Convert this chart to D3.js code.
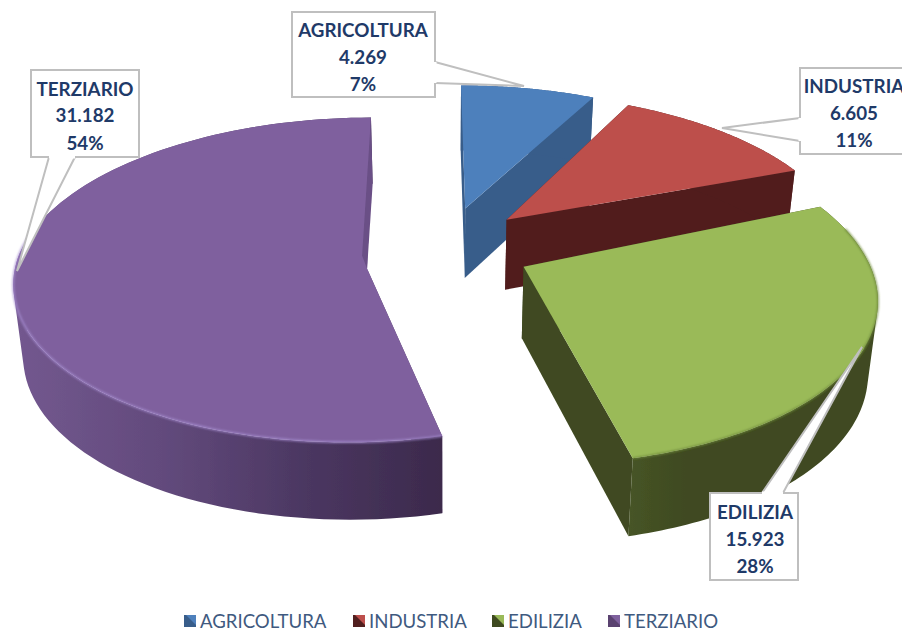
<!DOCTYPE html>
<html><head><meta charset="utf-8">
<style>html,body{margin:0;padding:0;background:#fff;overflow:hidden}svg{display:block}</style>
<script src="https://cdn.jsdelivr.net/npm/d3@7"></script></head>
<body><svg id="c" width="902" height="628"></svg>
<script>
// data
const categories = ["AGRICOLTURA","INDUSTRIA","EDILIZIA","TERZIARIO"];
const values = [4269,6605,15923,31182];
const percents = ["7%","11%","28%","54%"];
// styles
const topColors  = ["#4e80bc","#bd4f4c","#9aba59","#7f619e"];
const sideColors = ["#385d8a","#511f1f","#3f4a20","#5a4270"];
const edgeColors = ["#4a78b0","#b54a47","#6f8a3a","#a58bd0"];
// callouts: box, pointer base, pointer tip, text centre and line positions
const callouts = [
 {box:[292,12,143,85], base:[[435,62],[435,83]], tip:[524,86], cx:363, ys:[29,56,83]},
 {box:[800,68,110,86], base:[[800,118],[800,141]], tip:[722,128], cx:854, ys:[85,112,139]},
 {box:[710,493,88,87], base:[[762,493],[783,493]], tip:[862,347], cx:755, ys:[511,538,565]},
 {box:[31,70,108,87], base:[[49,157],[75,157]], tip:[17,271], cx:85, ys:[88,114,142]}
];
const legendX = [184,353,492,608];

// projection of the pie plane
const P = {cx:446, cy:250, A:347.5, B:161, k:0.158, depth:71, shrink:0.977, shear:4};
const explode = [0.225,0.225,0.225,0.25];
const radius = [1,1,1,0.975];
const apexNudge = [[0.006,-0.05],[0.015,-0.04],[0.018,0],[0.024,0.085]];
const project = (X,Y) => {
  const w = 1 - P.k*Y;
  return {x:P.cx + P.A*X/w + P.shear*Math.max(0,Y), y:P.cy + P.B*Y/w, w};
};
const drop = p => ({x:P.cx + (p.x-P.cx)*P.shrink, y:p.y + P.depth/Math.sqrt(p.w)});

const svg = d3.select("#c");
const defs = svg.append("defs");
defs.append("filter").attr("id","soft").append("feGaussianBlur").attr("stdDeviation",0.8);
const soft2 = defs.append("filter").attr("id","soft2");
soft2.append("feGaussianBlur").attr("stdDeviation",0.45);
const shadeStops = {
  2:[[0,"#465426"],[0.22,"#3f4a20"],[1,"#3f4a20"]],
  3:[[0,"#73588f"],[0.35,"#624a7c"],[0.7,"#4a3660"],[1,"#3c2a4c"]]
};
const shadeRange = {2:[630,880],3:[15,441]};
Object.keys(shadeStops).forEach(i=>{
  const g = defs.append("linearGradient").attr("id","side"+i)
    .attr("gradientUnits","userSpaceOnUse")
    .attr("x1",shadeRange[i][0]).attr("x2",shadeRange[i][1]).attr("y1",0).attr("y2",0);
  shadeStops[i].forEach(s=>g.append("stop").attr("offset",s[0]).attr("stop-color",s[1]));
});

const pie = d3.pie().sort(null).value(d=>d);
const arcs = pie(values);
const line = d3.line().x(d=>d.x).y(d=>d.y);
const root = svg.append("g").attr("filter","url(#soft2)");

const slices = arcs.map((a,i)=>{
  const mid = (a.startAngle+a.endAngle)/2;
  const ox = Math.sin(mid)*explode[i], oy = -Math.cos(mid)*explode[i];
  const apex = project(ox+apexNudge[i][0], oy+apexNudge[i][1]);
  const pts = d3.range(0,101).map(t=>{
    const th = a.startAngle + (a.endAngle-a.startAngle)*t/100;
    return project(ox+radius[i]*Math.sin(th), oy-radius[i]*Math.cos(th));
  });
  return {i,apex,pts};
});

// outer wall: one path of equally wound quads, a seamless union following the tangents
const wallPath = pts => d3.pairs(pts).map(([a,b])=>{
  const q = [a,b,drop(b),drop(a)];
  const area = d3.polygonArea(q.map(p=>[p.x,p.y]));
  return line(area<0 ? q.reverse() : q)+"Z";
}).join("");

// painter's order
[3,0,1,2].forEach(i=>{
  const s = slices[i], g = root.append("g");
  const sideFill = shadeStops[i] ? `url(#side${i})` : sideColors[i];
  const n = s.pts.length-1;
  const face = (outer, fill)=> g.append("path")
    .attr("d", line([s.apex, outer, drop(outer), drop(s.apex)])+"Z").attr("fill",fill);
  face(s.pts[0], sideColors[i]);
  if(i!==3) face(s.pts[n], sideColors[i]);
  g.append("path").attr("d", wallPath(s.pts)).attr("fill",sideFill);
  g.append("path").attr("d", line([s.apex].concat(s.pts))+"Z").attr("fill",topColors[i]);
  if(i>=2){
    const front = s.pts.filter(p=>p.y > s.apex.y-40);
    g.append("path").attr("d", line(front)).attr("fill","none")
      .attr("stroke",edgeColors[i]).attr("stroke-width",1.6).attr("filter","url(#soft)");
  }
  if(i===3){
    const t = s.pts[n];
    g.append("path").attr("d", line([t, drop(t), s.apex, {x:s.apex.x-5,y:s.apex.y-13}])+"Z")
      .attr("fill","#6a4f86");
  }
});

// callouts
const fmt = v => d3.format(",")(v).replace(/,/g,".");
callouts.forEach((c,i)=>{
  const [x,y,w,h] = c.box;
  const g = svg.append("g");
  const b0 = c.base[0], b1 = c.base[1];
  g.append("rect").attr("x",x).attr("y",y).attr("width",w).attr("height",h)
    .attr("fill","#fff").attr("stroke","#bfbfbf").attr("stroke-width",2);
  g.append("path").attr("d",d3.line()([b0,c.tip,b1]))
    .attr("fill","#fff").attr("stroke","#bfbfbf").attr("stroke-width",2);
  g.append("line").attr("x1",b0[0]).attr("y1",b0[1]).attr("x2",b1[0]).attr("y2",b1[1])
    .attr("stroke","#fff").attr("stroke-width",3);
  [categories[i], fmt(values[i]), percents[i]].forEach((t,j)=>g.append("text").text(t)
    .attr("x",c.cx).attr("y",c.ys[j]).attr("text-anchor","middle").attr("dominant-baseline","central")
    .attr("font-family","Lato, 'Open Sans', sans-serif").attr("font-weight",700).attr("font-size",18.8)
    .attr("fill","#1f3a68"));
});

// legend
const lg = svg.append("g");
categories.forEach((c,i)=>{
  const x = legendX[i], y = 615, sz = 12;
  lg.append("rect").attr("x",x).attr("y",y).attr("width",sz).attr("height",sz).attr("fill",sideColors[i]);
  lg.append("path").attr("d",d3.line()([[x+2,y],[x+sz,y],[x+sz,y+sz-2]])+"Z").attr("fill",topColors[i]);
  lg.append("text").text(c).attr("x",x+16).attr("y",620.5).attr("dominant-baseline","central")
    .attr("font-family","Lato, 'Open Sans', sans-serif").attr("font-size",18.6).attr("fill","#3f5a80");
});
</script></body></html>
